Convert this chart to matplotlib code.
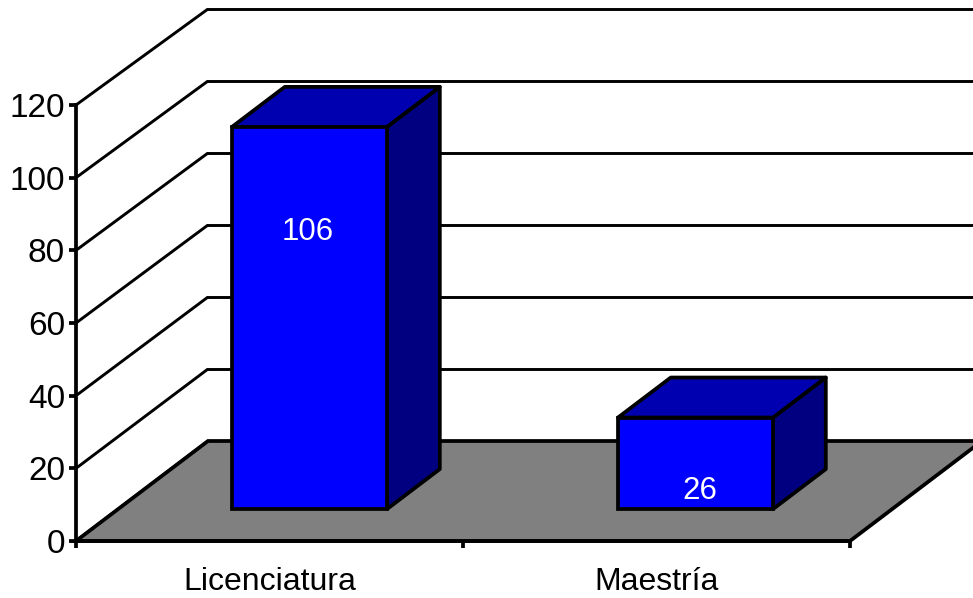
import matplotlib
matplotlib.use("Agg")
import matplotlib.pyplot as plt
from matplotlib.patches import Polygon

categories = ["Licenciatura", "Maestría"]
values = [106, 26]
value_labels = ["106", "26"]
y_ticks = [0, 20, 40, 60, 80, 100, 120]

W, H = 973, 598
px_x = 387.0          # pixels per category
px_y = 436.0 / 120    # pixels per value unit
wall_px_y = 3.6       # the back wall spacing is a bit tighter than the front axis
dx = 132 / px_x       # depth of the floor, in data units
dy = 100 / px_y
bar_width = 155 / px_x
bar_left = [(232 - 76) / px_x, (618 - 76) / px_x]
bar_base = 0.8
bar_depth = 0.29      # where the bar front stands on the floor
top_depth = 0.40      # how deep the bar is
label_pos = [(-2 / px_x, 77), (4 / px_x, 5.7)]

plt.rcParams["font.family"] = ["Liberation Sans", "DejaVu Sans"]

fig = plt.figure(figsize=(W / 100, H / 100), dpi=100)
ax = fig.add_axes([0, 0, 1, 1])
ax.set_xlim(-76 / px_x, (W - 76) / px_x)
ax.set_ylim(-(H - 541) / px_y, 541 / px_y)
lw = 2.7
n_cat = len(categories)


def proj(x, v, d):
    return (x + d * dx, v + d * dy)


# back wall lines
for t in y_ticks:
    back = dy + t * wall_px_y / px_y
    ax.plot([0, dx], [t, back], color="black", lw=2.1, zorder=1, solid_capstyle="butt")
    ax.plot([dx, (W + 20 - 76) / px_x], [back, back], color="black", lw=2.1, zorder=1)

# floor
floor = [proj(0, 0, 0), proj(n_cat, 0, 0), proj(n_cat, 0, 1), proj(0, 0, 1)]
ax.add_patch(Polygon(floor, closed=True, facecolor="#808080", edgecolor="black", lw=lw, zorder=2))

# bars
for left, val, lab, (lab_dx, lab_h) in zip(bar_left, values, value_labels, label_pos):
    right = left + bar_width
    x0 = left - bar_depth * dx
    x1 = right - bar_depth * dx
    d0 = bar_depth
    d1 = bar_depth + top_depth
    side = [proj(x1, bar_base, d0), proj(x1, bar_base, d1), proj(x1, val, d1), proj(x1, val, d0)]
    top = [proj(x0, val, d0), proj(x1, val, d0), proj(x1, val, d1), proj(x0, val, d1)]
    front = [proj(x0, bar_base, d0), proj(x1, bar_base, d0), proj(x1, val, d0), proj(x0, val, d0)]
    ax.add_patch(Polygon(side, closed=True, facecolor="#000080", edgecolor="black", lw=lw, zorder=3, joinstyle="round"))
    ax.add_patch(Polygon(top, closed=True, facecolor="#0000B0", edgecolor="black", lw=lw, zorder=3, joinstyle="round"))
    ax.add_patch(Polygon(front, closed=True, facecolor="#0000FF", edgecolor="black", lw=lw, zorder=4, joinstyle="miter"))
    ax.text(left + bar_width / 2 + lab_dx, proj(0, lab_h, bar_depth)[1], lab, color="white", fontsize=22.5,
            ha="center", va="center", zorder=5)

# axes
for s in ["top", "right"]:
    ax.spines[s].set_visible(False)
ax.spines["left"].set_position(("data", 0))
ax.spines["left"].set_bounds(0, 120)
ax.spines["bottom"].set_position(("data", 0))
ax.spines["bottom"].set_bounds(0, n_cat)
for s in ["left", "bottom"]:
    ax.spines[s].set_linewidth(lw)
    ax.spines[s].set_zorder(6)

ax.set_yticks(y_ticks)
ax.set_xticks(range(n_cat + 1))
ax.set_xticklabels([])
ax.set_xticks([i + 0.5 for i in range(n_cat)], labels=categories, minor=True)
ax.tick_params(axis="y", length=5, width=lw, labelsize=24, pad=3)
ax.tick_params(axis="x", which="major", length=5, width=lw)
ax.tick_params(axis="x", which="minor", length=0, labelsize=23, pad=19)

fig.savefig("out.png", dpi=100)
